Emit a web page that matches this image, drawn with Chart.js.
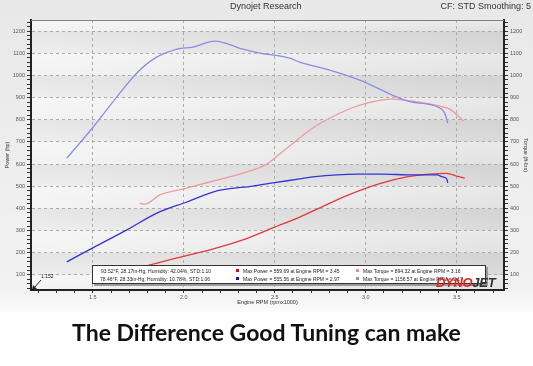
<!DOCTYPE html>
<html>
<head>
<meta charset="utf-8">
<script src="https://cdn.jsdelivr.net/npm/chart.js@4/dist/chart.umd.min.js"></script>
<style>
body { margin: 0; background: #fff; }
#wrap { position: relative; width: 533px; height: 366px; overflow: hidden;
  background: linear-gradient(#e8e8e8 0, #f2f2f2 290px, #f8f8f8 306px, #fff 314px);
  font-family: "Liberation Sans", Arial, sans-serif; }
canvas { position: absolute; left: 0; top: 0; }
.hdr { position: absolute; top: 1px; font-size: 9px; color: #333; line-height: 11px; white-space: nowrap; }
#legendBox { position: absolute; left: 92px; top: 265px; width: 392px; height: 17px; background: #fff;
  border: 1px solid #333; box-shadow: 2px 2px 0 #9a9a9a; font-size: 5px; color: #222; }
#legendBox span { position: absolute; white-space: nowrap; line-height: 6px; }
#legendBox i { position: absolute; width: 3px; height: 3px; }
#logo { position: absolute; left: 436px; top: 275px; font: italic bold 13px "Liberation Sans", Arial, sans-serif; letter-spacing: -0.3px; }
#logo b { color: #e3231f; }
#logo em { color: #333; font-style: italic; }
#caption { position: absolute; left: 0; top: 318px; width: 533px; text-align: center;
  font: bold 23px Lato, "Open Sans", sans-serif; color: #111; }
</style>
</head>
<body>
<div id="wrap">
  <canvas id="dyno" width="533" height="366"></canvas>
  <div class="hdr" style="left:230px">Dynojet Research</div>
  <div class="hdr" style="right:2px">CF: STD Smoothing: 5</div>
  <div id="legendBox">
    <span style="left:8px;top:2px">93.52°F, 28.17in-Hg, Humidity: 42.04%, STD:1.10</span>
    <span style="left:7px;top:10px">78.46°F, 28.33in-Hg, Humidity: 10.78%, STD:1.06</span>
    <i style="left:143px;top:3px;background:#d01010"></i>
    <span style="left:150px;top:2px">Max Power = 559.69 at Engine RPM = 3.45</span>
    <i style="left:143px;top:11px;background:#1010c0"></i>
    <span style="left:150px;top:10px">Max Power = 555.56 at Engine RPM = 2.97</span>
    <i style="left:263px;top:3px;background:#f08c8c"></i>
    <span style="left:270px;top:2px">Max Torque = 894.32 at Engine RPM = 3.16</span>
    <i style="left:263px;top:11px;background:#8c8ce6"></i>
    <span style="left:270px;top:10px">Max Torque = 1156.57 at Engine RPM = 2.17</span>
  </div>
  <div id="logo"><b>DYNO</b><em>JET</em></div>
  <div id="caption">The Difference Good Tuning can make</div>
</div>
<script>
// run 2 (blue) torque
var blueTorqueRpm = [1.357, 1.5, 1.621, 1.742, 1.841, 1.962, 2.049, 2.17, 2.324, 2.418, 2.582, 2.637, 2.802, 2.967, 3.231, 3.407, 3.434, 3.451];
var blueTorque    = [627, 765, 892, 1011, 1078, 1119, 1128, 1155, 1119, 1101, 1078, 1060, 1024, 979, 884, 853, 830, 785];
// run 2 (blue) power
var bluePowerRpm = [1.357, 1.5, 1.687, 1.852, 2.016, 2.181, 2.236, 2.379, 2.489, 2.637, 2.709, 2.951, 3.077, 3.258, 3.39, 3.423, 3.445, 3.451];
var bluePower    = [159, 222, 303, 379, 429, 479, 487, 501, 515, 533, 542, 555, 555, 551, 551, 542, 533, 515];
// run 1 (red) torque
var redTorqueRpm = [1.758, 1.786, 1.868, 2.016, 2.181, 2.308, 2.456, 2.527, 2.637, 2.709, 2.896, 3.005, 3.148, 3.258, 3.407, 3.462, 3.538];
var redTorque    = [423, 419, 461, 492, 528, 555, 600, 645, 718, 763, 844, 875, 893, 884, 862, 848, 794];
// run 1 (red) power
var redPowerRpm = [1.758, 1.962, 2.143, 2.324, 2.489, 2.637, 2.709, 2.896, 3.077, 3.225, 3.352, 3.445, 3.5, 3.544];
var redPower    = [133, 177, 213, 258, 312, 361, 388, 458, 512, 542, 555, 558, 546, 537];

var xTicks = [];
for (var k = 12; k <= 37; k++) xTicks.push(k / 10);
var yTicks = [];
for (var v = 40; v <= 1240; v += 20) yTicks.push(v);

function pts(xs, ys) {
	return xs.map(function (x, i) { return { x: x, y: ys[i] }; });
}
function majorX(v) { return Math.round(v * 10) % 5 === 0; }
function majorY(v) { return Math.round(v) % 100 === 0; }

var background = {
	id: 'background',
	beforeDraw: function (chart) {
		var c = chart.ctx, a = chart.chartArea, y = chart.scales.y;
		c.save();
		var g = c.createLinearGradient(a.left, 0, a.right, 0);
		g.addColorStop(0, '#f2f2f2');
		g.addColorStop(1, '#dedede');
		c.fillStyle = g;
		c.fillRect(a.left, a.top, a.right - a.left, a.bottom - a.top);
		for (var b = 0; b <= 1200; b += 100) {
			var top = y.getPixelForValue(Math.min(b + 100, 1250));
			var bot = y.getPixelForValue(Math.max(b, 32));
			var vg = c.createLinearGradient(0, top, 0, bot);
			if ((b / 100) % 2 === 1) {
				vg.addColorStop(0, 'rgba(0,0,0,0.05)');
				vg.addColorStop(1, 'rgba(0,0,0,0.015)');
			} else {
				vg.addColorStop(0, 'rgba(255,255,255,0.35)');
				vg.addColorStop(1, 'rgba(255,255,255,0.1)');
			}
			c.fillStyle = vg;
			c.fillRect(a.left, top, a.right - a.left, bot - top);
		}
		c.restore();
	},
	afterDraw: function (chart) {
		var c = chart.ctx, a = chart.chartArea;
		c.save();
		c.strokeStyle = '#808080';
		c.lineWidth = 1;
		c.beginPath();
		c.moveTo(a.left, a.top + 0.5);
		c.lineTo(a.right, a.top + 0.5);
		c.stroke();
		// "1.152" marker
		c.fillStyle = '#222';
		c.font = '5px "Liberation Sans", Arial, sans-serif';
		c.fillText('1.152', 41, 278);
		c.strokeStyle = '#222';
		c.beginPath();
		c.moveTo(41, 280);
		c.lineTo(34, 288);
		c.stroke();
		c.beginPath();
		c.moveTo(32, 290);
		c.lineTo(33, 285);
		c.lineTo(37, 289);
		c.closePath();
		c.fill();
		c.restore();
	}
};

function yAxis(pos, title, width) {
	return {
		position: pos,
		min: 32,
		max: 1250,
		afterBuildTicks: function (s) { s.ticks = yTicks.map(function (v) { return { value: v }; }); },
		afterFit: function (s) { s.width = width; },
		ticks: {
			autoSkip: false,
			padding: 2,
			color: '#555',
			font: { size: 5.5 },
			callback: function (v) { return majorY(v) ? v : ''; }
		},
		grid: {
			drawOnChartArea: pos === 'left',
			color: function (c) { return c.tick && majorY(c.tick.value) ? '#adadad' : 'rgba(0,0,0,0)'; },
			tickColor: '#333',
			tickLength: 4
		},
		border: { display: true, color: '#222', width: 2, dash: [3, 3] },
		title: { display: true, text: title, color: '#333', font: { size: 5.5 }, padding: 4 }
	};
}

var config = {
	type: 'line',
	data: {
		datasets: [{
			label: 'Torque run 2',
			data: pts(blueTorqueRpm, blueTorque),
			borderColor: '#8c8ce6',
			yAxisID: 'y2'
		}, {
			label: 'Torque run 1',
			data: pts(redTorqueRpm, redTorque),
			borderColor: '#f09a9a',
			yAxisID: 'y2'
		}, {
			label: 'Power run 2',
			data: pts(bluePowerRpm, bluePower),
			borderColor: '#3434d6',
			yAxisID: 'y'
		}, {
			label: 'Power run 1',
			data: pts(redPowerRpm, redPower),
			borderColor: '#e03a3a',
			yAxisID: 'y'
		}]
	},
	options: {
		responsive: false,
		animation: false,
		layout: { padding: { top: 20, bottom: 56 } },
		plugins: { legend: { display: false }, tooltip: { enabled: false } },
		elements: {
			point: { radius: 0 },
			line: { borderWidth: 1.3, cubicInterpolationMode: 'monotone', fill: false }
		},
		scales: {
			x: {
				type: 'linear',
				min: 1.16,
				max: 3.76,
				afterBuildTicks: function (s) { s.ticks = xTicks.map(function (v) { return { value: v }; }); },
				afterFit: function (s) { s.height = 20; },
				ticks: {
					autoSkip: false,
					maxRotation: 0,
					padding: 1,
					color: '#555',
					font: { size: 5.5 },
					callback: function (v) { return majorX(v) ? v.toFixed(1) : ''; }
				},
				grid: {
					color: function (c) { return c.tick && majorX(c.tick.value) ? '#adadad' : 'rgba(0,0,0,0)'; },
					tickColor: '#333',
					tickLength: 3
				},
				border: { display: true, color: '#222', width: 2, dash: [3, 3] },
				title: { display: true, text: 'Engine RPM (rpmx1000)', color: '#333', font: { size: 5.5 }, padding: 4 }
			},
			y: yAxis('left', 'Power (hp)', 31),
			y2: yAxis('right', 'Torque (ft-lbs)', 29)
		}
	},
	plugins: [background]
};

var ctx = document.getElementById('dyno').getContext('2d');
window.dynoChart = new Chart(ctx, config);
</script>
</body>
</html>
